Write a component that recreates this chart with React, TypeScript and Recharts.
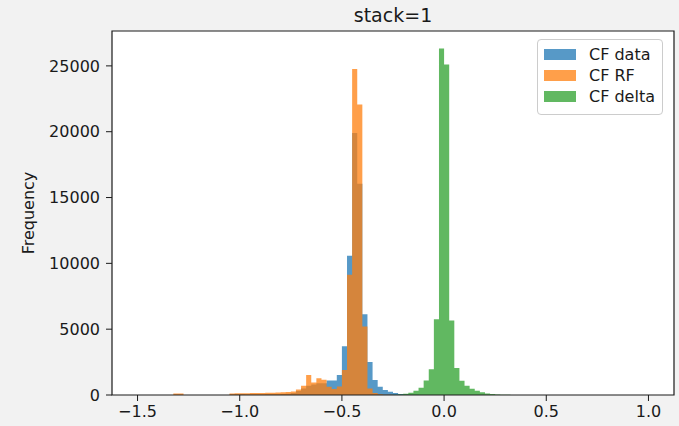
import React from "react";
import { ComposedChart, Area, XAxis, YAxis, CartesianGrid, ReferenceArea } from "recharts";

// histogram bins: 100 bins of 0.025 from -1.5 to 1.0
const binStart = -1.5;
const binWidth = 0.025;

// counts per bin
const cfData = [
  0, 0, 0, 0, 0, 0, 0, 0, 0, 0,
  0, 0, 0, 0, 0, 0, 0, 0, 40, 50,
  50, 40, 40, 40, 40, 50, 50, 60, 70, 90,
  150, 300, 500, 700, 800, 900, 900, 1100, 1100, 1520,
  3700, 10570, 19900, 16050, 6140, 2500, 1140, 630, 380, 250,
  150, 80, 40, 20, 10, 0, 0, 0, 0, 0,
  0, 0, 0, 0, 0, 0, 0, 0, 0, 0,
  0, 0, 0, 0, 0, 0, 0, 0, 0, 0,
  0, 0, 0, 0, 0, 0, 0, 0, 0, 0,
  0, 0, 0, 0, 0, 0, 0, 0, 0, 0,
];

const cfRf = [
  0, 0, 0, 0, 0, 0, 0, 120, 110, 0,
  0, 0, 0, 0, 0, 0, 0, 0, 110, 130,
  130, 140, 150, 150, 160, 170, 180, 190, 200, 220,
  260, 420, 700, 1520, 950, 1280, 1150, 620, 450, 650,
  1900, 9130, 24770, 22060, 5200, 500, 150, 60, 20, 10,
  0, 0, 0, 0, 0, 0, 0, 0, 0, 0,
  0, 0, 0, 0, 0, 0, 0, 0, 0, 0,
  0, 0, 0, 0, 0, 0, 0, 0, 0, 0,
  0, 0, 0, 0, 0, 0, 0, 0, 0, 0,
  0, 0, 0, 0, 0, 0, 0, 0, 0, 0,
];

const cfDelta = [
  0, 0, 0, 0, 0, 0, 0, 0, 0, 0,
  0, 0, 0, 0, 0, 0, 0, 0, 0, 0,
  0, 0, 0, 0, 0, 0, 0, 0, 0, 0,
  0, 0, 0, 0, 0, 0, 0, 0, 0, 0,
  0, 0, 0, 0, 0, 0, 0, 0, 0, 0,
  20, 40, 90, 170, 330, 560, 1100, 1950, 5750, 26320,
  25100, 5650, 2050, 1080, 700, 480, 330, 200, 120, 70,
  40, 20, 10, 0, 0, 0, 0, 0, 0, 0,
  0, 0, 0, 0, 0, 0, 0, 0, 0, 0,
  0, 0, 0, 0, 0, 0, 0, 0, 0, 0,
];

const seriesNames = ["CF data", "CF RF", "CF delta"];
const seriesKeys = ["data", "rf", "delta"];
const seriesColors = ["#1f77b4", "#ff7f0e", "#2ca02c"];
const xTicks = [-1.5, -1.0, -0.5, 0, 0.5, 1.0];
const yTicks = [0, 5000, 10000, 15000, 20000, 25000];

const xDomain = [-1.625, 1.125];
const yDomain = [0, 27650];

// one point per bin edge, last edge closes the step
const rows = Array.from({ length: cfData.length + 1 }).map((_, i) => ({
  x: Number((binStart + i * binWidth).toFixed(3)),
  data: cfData[i] ?? 0,
  rf: cfRf[i] ?? 0,
  delta: cfDelta[i] ?? 0,
}));

const font = "'DejaVu Sans', sans-serif";
const ink = "#1a1a1a";

const fmtX = (v: number) => {
  const s = v.toFixed(1);
  return v < 0 ? "\u2212" + s.slice(1) : s;
};

export default function App() {
  return (
    <div style={{ position: "absolute", left: 0, top: 0, width: 679, height: 426, background: "#f2f2f2", fontFamily: font }}>
      <ComposedChart width={679} height={426} data={rows} margin={{ top: 31, right: 5, bottom: 0, left: 0 }}>
        <CartesianGrid horizontal={false} vertical={false} fill="#ffffff" />
        <XAxis
          dataKey="x"
          type="number"
          domain={xDomain}
          ticks={xTicks}
          tickFormatter={fmtX}
          height={31}
          axisLine={false}
          tickLine={{ stroke: ink }}
          tickSize={6}
          tickMargin={5}
          tick={{ fill: ink, fontSize: 16, fontFamily: font }}
          allowDataOverflow
        />
        <YAxis
          type="number"
          domain={yDomain}
          ticks={yTicks}
          width={112}
          axisLine={false}
          tickLine={{ stroke: ink }}
          tickSize={6}
          tickMargin={6}
          tick={{ fill: ink, fontSize: 16, fontFamily: font }}
          allowDataOverflow
        />
        {seriesKeys.map((k, i) => (
          <Area
            key={k}
            type="stepAfter"
            dataKey={k}
            name={seriesNames[i]}
            stroke="none"
            fill={seriesColors[i]}
            fillOpacity={0.75}
            dot={false}
            activeDot={false}
            isAnimationActive={false}
          />
        ))}
        <ReferenceArea
          x1={xDomain[0]}
          x2={xDomain[1]}
          y1={yDomain[0]}
          y2={yDomain[1]}
          fill="none"
          stroke={ink}
          strokeWidth={1.2}
          ifOverflow="visible"
        />
      </ComposedChart>

      <svg width={679} height={426} style={{ position: "absolute", left: 0, top: 0, pointerEvents: "none" }}>
        <text x={393} y={21.5} textAnchor="middle" fontSize={19} fill={ink} fontFamily={font}>
          stack=1
        </text>
        <text
          x={34.4}
          y={213}
          transform="rotate(-90 34.4 213)"
          textAnchor="middle"
          fontSize={16}
          fill={ink}
          fontFamily={font}
        >
          Frequency
        </text>
      </svg>

      <div
        style={{
          position: "absolute",
          left: 537,
          top: 39,
          width: 126,
          height: 76,
          border: "1px solid #cccccc",
          borderRadius: 4,
          background: "rgba(255,255,255,0.8)",
          paddingTop: 4,
          boxSizing: "border-box",
        }}
      >
        {seriesNames.map((n, i) => (
          <div key={n} style={{ display: "flex", alignItems: "center", height: 21, fontSize: 16, color: ink }}>
            <div style={{ width: 32, height: 11, marginLeft: 6, background: seriesColors[i], opacity: 0.75 }} />
            <span style={{ marginLeft: 13, whiteSpace: "nowrap" }}>{n}</span>
          </div>
        ))}
      </div>
    </div>
  );
}
